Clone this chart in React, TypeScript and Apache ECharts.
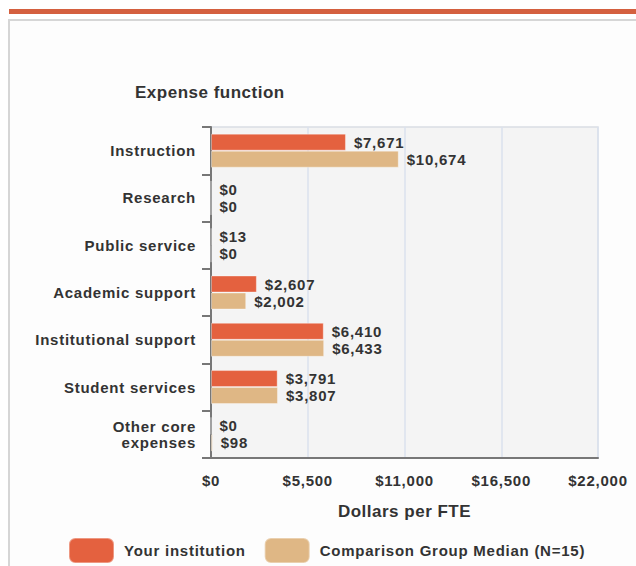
import React, { useEffect, useRef } from "react";
import * as echarts from "echarts";

const categories = [
  "Instruction",
  "Research",
  "Public service",
  "Academic support",
  "Institutional support",
  "Student services",
  "Other core\nexpenses",
];
const yourInstitution = [7671, 0, 13, 2607, 6410, 3791, 0];
const comparisonMedian = [10674, 0, 0, 2002, 6433, 3807, 98];
const seriesNames = ["Your institution", "Comparison Group Median (N=15)"];
const axisMax = 22000;
const axisInterval = 5500;

const FONT = "'Liberation Sans', Arial, Helvetica, sans-serif";
const fmt = (v: number) => "$" + Math.round(v).toLocaleString("en-US");

const css = `
#exp-chart text { letter-spacing: 0.75px; }
#exp-chart text[style*="17px"] { letter-spacing: 0.5px; }
`;

export default function App() {
  const ref = useRef<HTMLDivElement>(null);
  useEffect(() => {
    if (!ref.current) return;
    const chart = echarts.init(ref.current, null, { renderer: "svg" });
    const labelCfg = {
      show: true,
      position: "right",
      distance: 8,
      formatter: (p: any) => fmt(p.value),
      fontFamily: FONT,
      fontWeight: "bold",
      fontSize: 15,
      color: "#333",
    };
    chart.setOption({
      animation: false,
      backgroundColor: "#ffffff",
      textStyle: { fontFamily: FONT },
      graphic: [
        {
          type: "rect",
          z: -10,
          silent: true,
          shape: { x: 9, y: 20, width: 660, height: 600 },
          style: { fill: "#fdfdfd", stroke: "#d6d6d6", lineWidth: 2 },
        },
        {
          type: "rect",
          z: -9,
          silent: true,
          shape: { x: 9, y: 9, width: 640, height: 5 },
          style: { fill: "#d4603f" },
        },
      ],
      title: {
        text: "Expense function",
        left: 135,
        top: 84,
        padding: 0,
        textStyle: { fontFamily: FONT, fontWeight: "bold", fontSize: 17, color: "#333" },
      },
      legend: {
        left: 68,
        top: 537,
        padding: 0,
        itemWidth: 45,
        itemHeight: 25,
        itemGap: 30,
        icon: "roundRect",
        selectedMode: false,
        data: seriesNames,
        textStyle: {
          fontFamily: FONT,
          fontWeight: "bold",
          fontSize: 15,
          color: "#333",
          padding: [0, 0, 0, 5],
        },
      },
      grid: {
        left: 211,
        right: 38,
        top: 127,
        bottom: 108,
        show: true,
        backgroundColor: "#f4f4f4",
        borderColor: "#d9dde4",
        borderWidth: 1.5,
      },
      xAxis: {
        type: "value",
        min: 0,
        max: axisMax,
        interval: axisInterval,
        name: "Dollars per FTE",
        nameLocation: "middle",
        nameGap: 45,
        nameTextStyle: { fontFamily: FONT, fontWeight: "bold", fontSize: 17, color: "#333" },
        axisLine: { show: true, lineStyle: { color: "#777", width: 2 } },
        axisTick: { show: false },
        splitLine: { show: true, lineStyle: { color: "#dbe2ee", width: 1.5 } },
        axisLabel: {
          margin: 15,
          formatter: (v: number) => fmt(v),
          fontFamily: FONT,
          fontWeight: "bold",
          fontSize: 15,
          color: "#333",
        },
      },
      yAxis: {
        type: "category",
        inverse: true,
        data: categories,
        axisLine: { show: true, lineStyle: { color: "#777", width: 2 } },
        axisTick: { show: true, length: 9, lineStyle: { color: "#777", width: 2 } },
        splitLine: { show: false },
        axisLabel: {
          margin: 15,
          fontFamily: FONT,
          fontWeight: "bold",
          fontSize: 15,
          lineHeight: 16,
          color: "#333",
          align: "right",
        },
      },
      series: [
        {
          name: seriesNames[0],
          type: "bar",
          data: yourInstitution,
          barWidth: 17,
          barGap: "0%",
          itemStyle: { color: "#e4613f", borderColor: "rgba(255,255,255,0.35)", borderWidth: 1 },
          label: labelCfg,
        },
        {
          name: seriesNames[1],
          type: "bar",
          data: comparisonMedian,
          barWidth: 17,
          barGap: "0%",
          itemStyle: { color: "#dfb785", borderColor: "rgba(255,255,255,0.35)", borderWidth: 1 },
          label: labelCfg,
        },
      ],
    });
    return () => chart.dispose();
  }, []);
  return (
    <>
      <style>{css}</style>
      <div
        id="exp-chart"
        ref={ref}
        style={{ position: "fixed", left: 0, top: 0, width: 636, height: 566 }}
      />
    </>
  );
}
